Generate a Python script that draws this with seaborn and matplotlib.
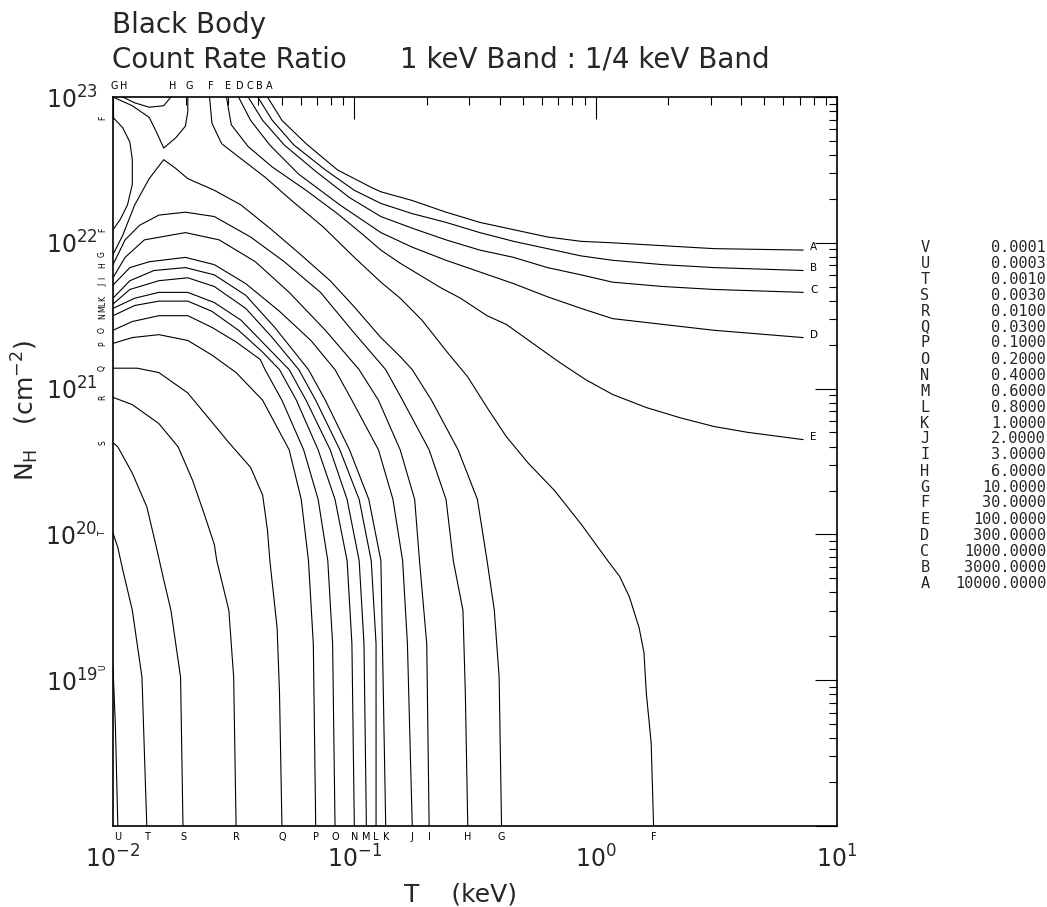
import numpy as np
import matplotlib
matplotlib.use("Agg")
import matplotlib.pyplot as plt
import seaborn as sns
from matplotlib.ticker import FixedLocator, NullFormatter, FuncFormatter

# ---------------- data (log10 T [keV], log10 N_H [cm^-2]) -------------
level_letters = ["V", "U", "T", "S", "R", "Q", "P", "O", "N", "M", "L",
                 "K", "J", "I", "H", "G", "F", "E", "D", "C", "B", "A"]
level_values = [0.0001, 0.0003, 0.001, 0.003, 0.01, 0.03, 0.1, 0.2, 0.4, 0.6, 0.8,
                1.0, 2.0, 3.0, 6.0, 10.0, 30.0, 100.0, 300.0, 1000.0, 3000.0, 10000.0]

A_logT = [-1.36, -1.30, -1.20, -1.07, -0.93, -0.89, -0.76, -0.62, -0.48, -0.34, -0.20, -0.06, 0.07, 0.28, 0.49, 0.86]
A_logNH = [23.00, 22.84, 22.68, 22.50, 22.38, 22.35, 22.29, 22.21, 22.14, 22.09, 22.04, 22.01, 22.00, 21.98, 21.96, 21.95]

B_logT = [-1.40, -1.34, -1.25, -1.12, -1.00, -0.89, -0.76, -0.62, -0.48, -0.34, -0.20, -0.06, 0.07, 0.28, 0.49, 0.86]
B_logNH = [23.00, 22.84, 22.67, 22.50, 22.36, 22.27, 22.20, 22.14, 22.07, 22.01, 21.96, 21.91, 21.88, 21.85, 21.83, 21.81]

C_logT = [-1.44, -1.38, -1.29, -1.16, -1.02, -0.89, -0.76, -0.62, -0.48, -0.34, -0.20, -0.06, 0.07, 0.28, 0.49, 0.86]
C_logNH = [23.00, 22.84, 22.67, 22.49, 22.31, 22.18, 22.10, 22.02, 21.95, 21.90, 21.83, 21.78, 21.73, 21.70, 21.68, 21.66]

D_logT = [-1.48, -1.43, -1.35, -1.23, -1.06, -0.89, -0.76, -0.62, -0.48, -0.34, -0.20, -0.06, 0.07, 0.28, 0.49, 0.86]
D_logNH = [23.00, 22.84, 22.67, 22.47, 22.26, 22.07, 21.97, 21.88, 21.80, 21.72, 21.63, 21.55, 21.48, 21.44, 21.40, 21.35]

E_logT = [-1.53, -1.51, -1.44, -1.34, -1.20, -1.07, -0.96, -0.89, -0.81, -0.73, -0.64, -0.56, -0.45, -0.37,
          -0.26, -0.15, -0.04, 0.07, 0.21, 0.35, 0.49, 0.63, 0.86]
E_logNH = [23.00, 22.81, 22.66, 22.52, 22.36, 22.20, 22.05, 21.95, 21.86, 21.78, 21.69, 21.62, 21.50, 21.44,
           21.31, 21.18, 21.06, 20.96, 20.87, 20.80, 20.74, 20.70, 20.65]

F_logT = [-1.60, -1.59, -1.55, -1.48, -1.37, -1.26, -1.13, -1.00, -0.89, -0.81, -0.72, -0.62, -0.53, -0.45,
          -0.37, -0.28, -0.17, -0.06, 0.05, 0.10, 0.14, 0.18, 0.20, 0.21, 0.23, 0.24]
F_logNH = [23.00, 22.82, 22.68, 22.59, 22.45, 22.29, 22.11, 21.90, 21.73, 21.62, 21.47, 21.26, 21.08, 20.87,
           20.67, 20.49, 20.30, 20.07, 19.82, 19.71, 19.57, 19.36, 19.19, 18.91, 18.57, 18.00]

F2_logT = [-2.00, -1.96, -1.93, -1.92, -1.92, -1.94, -1.97, -2.00]
F2_logNH = [22.86, 22.79, 22.69, 22.57, 22.40, 22.26, 22.16, 22.09]

G_logT = [-2.00, -1.96, -1.91, -1.85, -1.79, -1.74, -1.69, -1.58, -1.47, -1.35, -1.23, -1.10, -1.00, -0.89,
          -0.81, -0.76, -0.68, -0.57, -0.49, -0.45, -0.42, -0.40, -0.39]
G_logNH = [21.92, 22.05, 22.26, 22.44, 22.57, 22.51, 22.44, 22.36, 22.26, 22.10, 21.93, 21.74, 21.56, 21.35,
           21.22, 21.13, 20.92, 20.58, 20.24, 19.82, 19.48, 19.02, 18.00]

G2_logT = [-2.00, -1.92, -1.85, -1.82, -1.79, -1.74, -1.70, -1.69, -1.69]
G2_logNH = [23.00, 22.94, 22.86, 22.76, 22.65, 22.72, 22.80, 22.90, 23.00]

H_logT = [-2.00, -1.95, -1.89, -1.81, -1.70, -1.58, -1.43, -1.29, -1.14, -1.01, -0.87, -0.80, -0.69, -0.62,
          -0.59, -0.55, -0.54, -0.53]
H_logNH = [21.85, 22.02, 22.12, 22.19, 22.21, 22.18, 22.04, 21.87, 21.66, 21.40, 21.13, 20.92, 20.58, 20.24,
           19.82, 19.48, 18.91, 18.00]

H2_logT = [-1.96, -1.91, -1.85, -1.79, -1.76]
H2_logNH = [23.00, 22.96, 22.93, 22.94, 23.00]

I_logT = [-2.00, -1.95, -1.87, -1.70, -1.56, -1.41, -1.27, -1.12, -0.98, -0.90, -0.81, -0.75, -0.73, -0.70, -0.69]
I_logNH = [21.76, 21.90, 22.02, 22.07, 22.02, 21.87, 21.66, 21.40, 21.13, 20.92, 20.58, 20.24, 19.82, 19.25, 18.00]

J_logT = [-2.00, -1.93, -1.85, -1.70, -1.58, -1.45, -1.31, -1.18, -1.08, -1.01, -0.90, -0.84, -0.80, -0.78, -0.76]
J_logNH = [21.71, 21.83, 21.87, 21.90, 21.85, 21.72, 21.53, 21.33, 21.13, 20.92, 20.58, 20.24, 19.82, 19.25, 18.00]

K_logT = [-2.00, -1.93, -1.83, -1.70, -1.58, -1.45, -1.33, -1.19, -1.12, -1.02, -0.94, -0.89, -0.88, -0.87]
K_logNH = [21.62, 21.74, 21.81, 21.83, 21.78, 21.64, 21.42, 21.13, 20.92, 20.58, 20.24, 19.82, 18.93, 18.00]

L_logT = [-2.00, -1.93, -1.81, -1.69, -1.58, -1.45, -1.34, -1.23, -1.16, -1.06, -0.98, -0.93, -0.91, -0.91]
L_logNH = [21.58, 21.68, 21.74, 21.76, 21.70, 21.55, 21.35, 21.13, 20.92, 20.58, 20.24, 19.82, 19.25, 18.00]

M_logT = [-2.00, -1.91, -1.81, -1.69, -1.58, -1.47, -1.37, -1.27, -1.20, -1.10, -1.03, -0.98, -0.96, -0.95]
M_logNH = [21.55, 21.62, 21.66, 21.66, 21.59, 21.47, 21.30, 21.13, 20.92, 20.58, 20.24, 19.82, 19.25, 18.00]

N_logT = [-2.00, -1.91, -1.81, -1.69, -1.59, -1.48, -1.38, -1.31, -1.24, -1.15, -1.08, -1.03, -1.01, -1.00]
N_logNH = [21.50, 21.57, 21.60, 21.60, 21.53, 21.40, 21.25, 21.13, 20.92, 20.58, 20.24, 19.82, 19.25, 18.00]

O_logT = [-2.00, -1.92, -1.81, -1.69, -1.59, -1.49, -1.39, -1.37, -1.30, -1.21, -1.15, -1.11, -1.09, -1.08]
O_logNH = [21.40, 21.46, 21.50, 21.50, 21.42, 21.32, 21.20, 21.13, 20.92, 20.58, 20.24, 19.82, 19.25, 18.00]

P_logT = [-2.00, -1.92, -1.81, -1.69, -1.59, -1.49, -1.38, -1.27, -1.22, -1.19, -1.17, -1.16]
P_logNH = [21.31, 21.35, 21.37, 21.33, 21.23, 21.11, 20.92, 20.58, 20.24, 19.82, 19.25, 18.00]

Q_logT = [-2.00, -1.90, -1.81, -1.69, -1.61, -1.52, -1.43, -1.38, -1.36, -1.35, -1.32, -1.31, -1.30]
Q_logNH = [21.14, 21.14, 21.11, 20.97, 20.81, 20.63, 20.46, 20.27, 20.03, 19.82, 19.36, 18.91, 18.00]

R_logT = [-2.00, -1.92, -1.81, -1.73, -1.67, -1.62, -1.58, -1.57, -1.52, -1.50, -1.49]
R_logNH = [20.94, 20.89, 20.76, 20.60, 20.37, 20.13, 19.93, 19.82, 19.48, 19.02, 18.00]

S_logT = [-2.00, -1.98, -1.92, -1.86, -1.82, -1.79, -1.76, -1.72, -1.71]
S_logNH = [20.63, 20.60, 20.42, 20.19, 19.91, 19.69, 19.48, 19.02, 18.00]

T_logT = [-2.00, -1.98, -1.96, -1.92, -1.88, -1.86]
T_logNH = [20.01, 19.91, 19.76, 19.48, 19.02, 18.00]

U_logT = [-2.00, -1.99, -1.98]
U_logNH = [19.09, 18.68, 18.00]

x_tick_exponents = [-2, -1, 0, 1]
y_tick_exponents = [18, 19, 20, 21, 22, 23]
y_labelled_exponents = [19, 20, 21, 22, 23]

contours = [
    ("A", A_logT, A_logNH), ("B", B_logT, B_logNH), ("C", C_logT, C_logNH),
    ("D", D_logT, D_logNH), ("E", E_logT, E_logNH), ("F", F_logT, F_logNH),
    ("F", F2_logT, F2_logNH), ("G", G_logT, G_logNH), ("G", G2_logT, G2_logNH),
    ("H", H_logT, H_logNH), ("H", H2_logT, H2_logNH), ("I", I_logT, I_logNH),
    ("J", J_logT, J_logNH), ("K", K_logT, K_logNH), ("L", L_logT, L_logNH),
    ("M", M_logT, M_logNH), ("N", N_logT, N_logNH), ("O", O_logT, O_logNH),
    ("P", P_logT, P_logNH), ("Q", Q_logT, Q_logNH), ("R", R_logT, R_logNH),
    ("S", S_logT, S_logNH), ("T", T_logT, T_logNH), ("U", U_logT, U_logNH),
]

# ---------------- figure ----------------
sns.set_theme(style="white")
plt.rcParams['font.family'] = ['DejaVu Sans']
plt.rcParams['mathtext.fontset'] = 'dejavusans'

fig = plt.figure(figsize=(10.47, 9.07), dpi=100)
ax = fig.add_axes([113 / 1047, 1 - 826 / 907, (837 - 113) / 1047, (826 - 97) / 907])

xmin, xmax = 10.0 ** x_tick_exponents[0], 10.0 ** x_tick_exponents[-1]
ymin, ymax = 10.0 ** y_tick_exponents[0], 10.0 ** y_tick_exponents[-1]

for letter, lt, ln in contours:
    t = 10.0 ** np.array(lt)
    nh = 10.0 ** np.array(ln)
    sns.lineplot(x=t, y=nh, sort=False, estimator=None, color="black",
                 linewidth=0.8, ax=ax, legend=False)
    for i in (0, -1):
        xt, yt = t[i], nh[i]
        kw = dict(color="black", textcoords="offset points", annotation_clip=False)
        if np.isclose(ln[i], y_tick_exponents[-1]):
            ax.annotate(letter, (xt, yt), xytext=(1, 4), ha="center", va="bottom", fontsize=7, **kw)
        elif np.isclose(ln[i], y_tick_exponents[0]):
            ax.annotate(letter, (xt, yt), xytext=(0, -4), ha="center", va="top", fontsize=7, **kw)
        elif np.isclose(lt[i], x_tick_exponents[0]):
            ax.annotate(letter, (xt, yt), xytext=(-7.5, 0), ha="center", va="center",
                        rotation=90, fontsize=5.5, **kw)
        elif i == -1:
            ax.annotate(letter, (xt, yt), xytext=(7.5, 2), ha="center", va="center", fontsize=7.5, **kw)

ax.set_xscale("log")
ax.set_yscale("log")
ax.set_xlim(xmin, xmax)
ax.set_ylim(ymin, ymax)

ax.xaxis.set_major_locator(FixedLocator([10.0 ** e for e in x_tick_exponents]))
ax.yaxis.set_major_locator(FixedLocator([10.0 ** e for e in y_tick_exponents]))
ax.xaxis.set_minor_locator(FixedLocator([m * 10.0 ** e for e in x_tick_exponents[:-1] for m in range(2, 10)]))
ax.yaxis.set_minor_locator(FixedLocator([m * 10.0 ** e for e in y_tick_exponents[:-1] for m in range(2, 10)]))
ax.xaxis.set_minor_formatter(NullFormatter())
ax.yaxis.set_minor_formatter(NullFormatter())
ax.xaxis.set_major_formatter(FuncFormatter(lambda v, p: r"$10^{%d}$" % round(np.log10(v))))
ax.yaxis.set_major_formatter(FuncFormatter(
    lambda v, p: (r"$10^{%d}$" % round(np.log10(v))) if round(np.log10(v)) in y_labelled_exponents else ""))

ax.tick_params(which="both", direction="in", top=True, right=True, color="black", width=0.8)
ax.tick_params(which="major", length=16, labelsize=17)
ax.tick_params(axis="y", which="major", pad=11)
ax.tick_params(axis="x", which="major", pad=14)
ax.tick_params(which="minor", length=6)
for s in ax.spines.values():
    s.set_color("black")
    s.set_linewidth(1.2)

ax.set_xlabel("T    (keV)", fontsize=18)
ax.xaxis.set_label_coords(0.48, -0.078)
ax.set_ylabel(r"N$_{\rm H}$   (cm$^{-2}$)", fontsize=18)
ax.yaxis.set_label_coords(-0.10, 0.57)

fig.text(112 / 1047, 1 - 25 / 907, "Black Body", fontsize=20, va="center", ha="left")
fig.text(112 / 1047, 1 - 60 / 907, "Count Rate Ratio", fontsize=20, va="center", ha="left")
fig.text(400 / 1047, 1 - 60 / 907, "1 keV Band : 1/4 keV Band", fontsize=20, va="center", ha="left")

# level key on the right
row0, drow = 247, 16
for k, (let, val) in enumerate(zip(level_letters, level_values)):
    yk = 1 - (row0 + k * drow) / 907
    fig.text(925 / 1047, yk, let, fontsize=11, family="DejaVu Sans Mono", ha="center", va="center")
    fig.text(1046 / 1047, yk, "%.4f" % val, fontsize=11, family="DejaVu Sans Mono", ha="right", va="center")

fig.savefig("out.png", dpi=100)
